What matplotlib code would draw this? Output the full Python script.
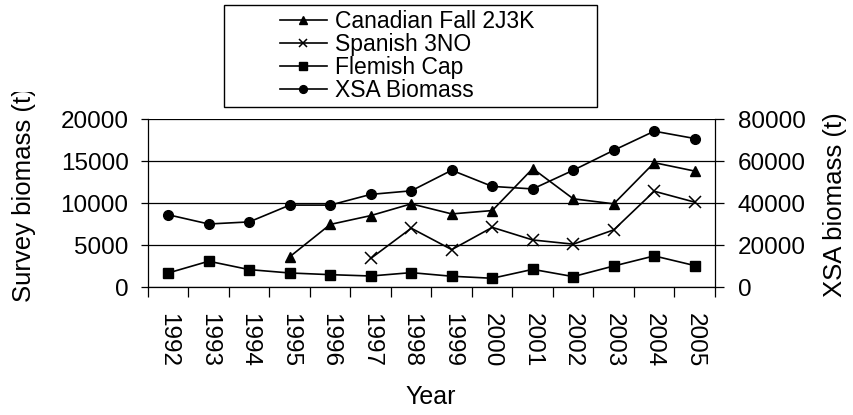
import matplotlib
matplotlib.use("Agg")
import matplotlib.pyplot as plt
from matplotlib.patches import Rectangle
from matplotlib.transforms import Bbox, TransformedBbox
import numpy as np

plt.rcParams['font.family'] = ['Liberation Sans', 'DejaVu Sans']

years = ['1992', '1993', '1994', '1995', '1996', '1997', '1998',
         '1999', '2000', '2001', '2002', '2003', '2004', '2005']
canadian = [np.nan, np.nan, np.nan, 3600, 7450, 8500, 9900,
            8700, 9100, 14100, 10500, 9900, 14800, 13800]
spanish = [np.nan, np.nan, np.nan, np.nan, np.nan, 3400, 7000,
           4450, 7100, 5600, 5100, 6800, 11400, 10100]
flemish = [1670, 3070, 2070, 1670, 1470, 1310, 1710,
           1280, 1040, 2100, 1240, 2500, 3700, 2550]
xsa = [34400, 30000, 31000, 39000, 39000, 44100, 45800,
       55600, 47900, 46700, 55600, 65100, 74200, 70700]

W, H = 854, 415
fig = plt.figure(figsize=(W / 100, H / 100), dpi=100)

def fx(x):
    return x / W

def fy(y):
    return 1 - y / H

ax = fig.add_axes([fx(148), fy(287), fx(715) - fx(148), fy(119) - fy(287)])
ax2 = ax.twinx()

x = np.arange(len(years))
lw = 1.2
h1, = ax.plot(x, canadian, color='black', lw=lw, marker='^', ms=7.5,
              label='Canadian Fall 2J3K')
h2, = ax.plot(x, spanish, color='black', lw=lw, marker='x', ms=8, mew=1.1,
              label='Spanish 3NO')
h3, = ax.plot(x, flemish, color='black', lw=lw, marker='s', ms=6.5,
              label='Flemish Cap')
h4, = ax2.plot(x, xsa, color='black', lw=lw, marker='o', ms=7,
               label='XSA Biomass')

ax.set_xlim(-0.5, len(years) - 0.5)
ax.set_ylim(0, 20000)
ax.set_yticks([0, 5000, 10000, 15000, 20000])
ax2.set_ylim(0, 80000)
ax2.set_yticks([0, 20000, 40000, 60000, 80000])

ax.yaxis.grid(True, color='black', lw=0.9)
ax.set_axisbelow(True)

fs = 17.5
ax.set_xticks(x)
ax.set_xticklabels(years, rotation=270)
ax.set_xticks(np.arange(-0.5, len(years)), minor=True)
ax.tick_params(axis='x', which='major', length=0, pad=18.5, labelsize=fs)
ax.tick_params(axis='x', which='minor', length=7, width=0.9, direction='out')
ax.tick_params(axis='y', length=5, width=0.9, pad=9, labelsize=fs)
ax2.tick_params(axis='y', length=6.5, width=0.9, pad=10, labelsize=fs)

for a in (ax, ax2):
    a.spines['top'].set_visible(False)
    for s in a.spines.values():
        s.set_linewidth(0.9)
ax.spines['right'].set_visible(False)
ax2.spines['left'].set_visible(False)
ax2.spines['bottom'].set_visible(False)

# axis titles (clipped at the top like the reference)
t1 = fig.text(fx(24), fy(302), 'Survey biomass (t)', rotation=90,
              ha='center', va='bottom', fontsize=18.5)
t1.set_clip_box(TransformedBbox(Bbox([[0, 0], [1, fy(92)]]), fig.transFigure))
t1.set_clip_on(True)
t2 = fig.text(fx(835), fy(297), 'XSA biomass (t)', rotation=90,
              ha='center', va='bottom', fontsize=18.5)
t2.set_clip_box(TransformedBbox(Bbox([[0, 0], [1, fy(101)]]), fig.transFigure))
t2.set_clip_on(True)
fig.text(fx(431), fy(397), 'Year', ha='center', va='center', fontsize=18)

# legend with a wide frame drawn separately
fig.patches.append(Rectangle((fx(224), fy(107)), fx(597) - fx(224),
                             fy(5) - fy(107), transform=fig.transFigure,
                             facecolor='white', edgecolor='black', lw=1.0,
                             zorder=0))
fig.legend(handles=[h1, h2, h3, h4], loc='upper left',
           bbox_to_anchor=(fx(280), fy(10)), frameon=False, borderpad=0,
           borderaxespad=0, handlelength=2.05, handletextpad=0.35,
           labelspacing=0.0, fontsize=16.5, markerscale=0.8)

fig.savefig('out.png', dpi=100)
